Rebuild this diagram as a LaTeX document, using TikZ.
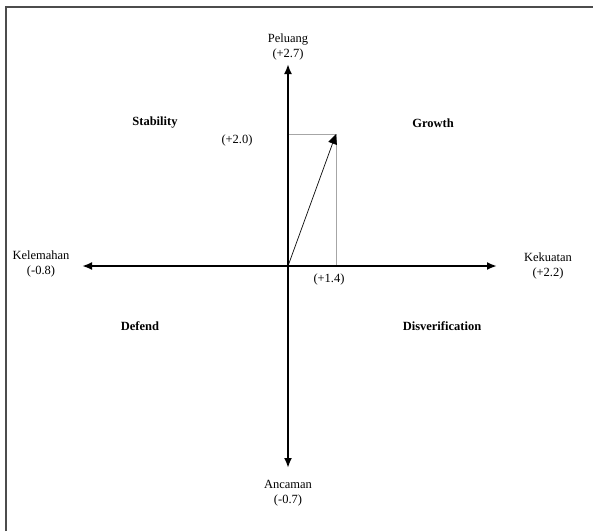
\documentclass[tikz,border=0pt]{standalone}
\usepackage{fontspec}
\setmainfont{Liberation Serif}
\usetikzlibrary{arrows.meta}
\begin{document}
\begin{tikzpicture}[x=1pt,y=-1pt,
  lbl/.style={font=\fontsize{12.5}{15.5}\selectfont, align=center, inner sep=0pt},
  quad/.style={font=\fontsize{12.5}{15}\selectfont\bfseries, inner sep=0pt},
  axis/.style={line width=2pt, -{Latex[length=10pt,width=8pt]}},
  guide/.style={draw=gray!70, line width=1pt}]
\useasboundingbox (0,0) rectangle (593,531);
\draw[draw=gray!60!black, line width=1.5pt] (6,531) -- (6,7) -- (593,7);
\coordinate (O) at (288,266);
\coordinate (E) at (497,266);
\coordinate (W) at (82,266);
\coordinate (N) at (288,64);
\coordinate (S) at (288,468);
\coordinate (P) at (336,134);
\coordinate (PY) at (288,134);
\coordinate (PX) at (336,266);
\draw[guide] (PY) -- (P) -- (PX);
\draw[axis] (O) -- (E);
\draw[axis] (O) -- (W);
\draw[axis] (O) -- (N);
\draw[axis] (O) -- (S);
\draw[line width=0.7pt, -{Triangle[length=10pt,width=9pt]}] (O) -- (P);
\node[lbl] (pel) at (288,47) {Peluang\\(+2.7)};
\node[lbl] (kel) at (41,264) {Kelemahan\\(-0.8)};
\node[lbl] (kek) at (548,266) {Kekuatan\\(+2.2)};
\node[lbl] (anc) at (288,493) {Ancaman\\(-0.7)};
\node[lbl] (y2) at (237,140) {(+2.0)};
\node[lbl] (x14) at (329,279) {(+1.4)};
\node[quad] (stab) at (155,123) {Stability};
\node[quad] (grow) at (433,123) {Growth};
\node[quad] (def) at (140,326) {Defend};
\node[quad] (dis) at (442,326) {Disverification};
\end{tikzpicture}
\end{document}
